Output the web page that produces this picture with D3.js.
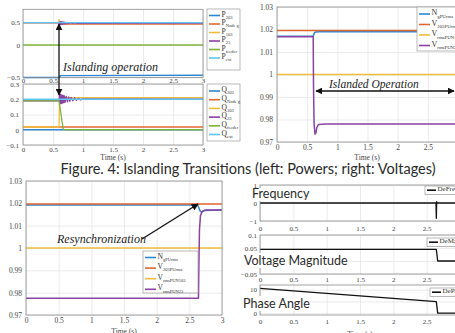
<!DOCTYPE html>
<html>
<head>
<meta charset="utf-8">
<script src="https://cdn.jsdelivr.net/npm/d3@7"></script>
<style>
  body { margin: 0; background: #fff; }
  svg { display: block; }
</style>
</head>
<body>
<div id="chart"></div>
<script>
// shared time axis
const timeTicks = [0, 0.5, 1, 1.5, 2, 2.5, 3];

// islanding: active powers (pu)
const p203 = [[0, -0.5], [0.6, -0.5], [0.63, -0.47], [3, -0.465]];
const pNodeG = [[0, 0.5], [0.6, 0.5], [0.62, 0.46], [0.65, 0.48], [0.7, 0.47], [3, 0.47]];
const p103 = [[0, 0.5], [0.595, 0.5], [0.6, 0.57], [0.61, 0.5], [3, 0.5]];
const p23 = [[0, 0.5], [0.6, 0.5], [0.61, 0.455], [0.62, 0.53], [0.63, 0.46], [0.64, 0.525], [0.65, 0.465],
  [0.66, 0.52], [0.67, 0.468], [0.68, 0.515], [0.69, 0.472], [0.70, 0.51], [0.72, 0.476], [0.74, 0.505],
  [0.76, 0.48], [0.79, 0.5], [0.82, 0.484], [0.86, 0.495], [0.9, 0.487], [3, 0.49]];
const pFeeder = [[0, 0], [3, 0]];
const pExt = [[0, 0.5], [3, 0.5]];

// islanding: reactive powers (pu)
const q203 = [[0, 0], [3, 0]];
const qNodeG = [[0, 0.018], [3, 0.018]];
const q103 = [[0, 0.018], [0.6, 0.018], [0.61, 0.21], [3, 0.21]];
const q23 = [[0, 0.19], [0.6, 0.19], [0.61, 0.235], [0.62, 0.17], [0.63, 0.232], [0.64, 0.172], [0.65, 0.228],
  [0.66, 0.175], [0.67, 0.225], [0.68, 0.178], [0.69, 0.222], [0.70, 0.18], [0.72, 0.218], [0.74, 0.183],
  [0.76, 0.215], [0.78, 0.186], [0.80, 0.212], [0.83, 0.19], [0.86, 0.209], [0.89, 0.193], [0.92, 0.206],
  [0.96, 0.196], [1.0, 0.203], [3, 0.2]];
const qFeeder = [[0, 0.19], [0.6, 0.19], [0.67, 0.005], [0.7, 0], [3, 0]];
const qExt = [[0, 0.2], [3, 0.2]];

// islanding: voltages (pu)
const ngIsland = [[0, 1.017], [0.6, 1.017], [0.61, 1.0178], [0.62, 1.0185], [0.64, 1.0189], [0.7, 1.019], [3, 1.019]];
const v203Island = [[0, 1.0196], [3, 1.0196]];
const v103Island = [[0, 1.0], [3, 1.0]];
const v23Island = [[0, 1.0168], [0.6, 1.0168], [0.605, 0.995], [0.615, 0.978], [0.63, 0.9735], [0.645, 0.974],
  [0.66, 0.9765], [0.69, 0.9778], [0.8, 0.978], [3, 0.978]];

// resynchronization: voltages (pu)
const ngResync = [[0, 1.0192], [2.6, 1.0192], [2.62, 1.0197], [2.645, 1.018], [2.67, 1.0163], [2.69, 1.0162],
  [2.73, 1.0168], [3, 1.017]];
const v203Resync = [[0, 1.0197], [3, 1.0197]];
const v103Resync = [[0, 1.0], [3, 1.0]];
const v23Resync = [[0, 0.9775], [2.64, 0.9775], [2.645, 0.99], [2.655, 1.008], [2.67, 1.0145], [2.7, 1.0165],
  [2.75, 1.017], [3, 1.017]];

// resynchronization: deviations
const deFreq = [[0, 0], [2.64, 0], [2.645, -0.85], [2.65, 0.08], [2.655, 0], [3, 0]];
const deMag = [[0, 0.045], [2.645, 0.045], [2.665, 0.0], [3, 0.0]];
const dePhase = [[0, 10.6], [2.645, 4.9], [2.665, 0], [3, 0]];

const colors = ["#2f86d0", "#e0672f", "#efbd3b", "#8b42a2", "#7db33c", "#5fc6ef"];
const serif = "'Liberation Serif', 'DejaVu Serif', serif";
const sans = "Lato, 'Noto Sans', sans-serif";

const svg = d3.select("#chart").append("svg").attr("width", 455).attr("height", 333);

const defs = svg.append("defs");
defs.append("marker").attr("id", "head")
  .attr("viewBox", "0 0 10 10").attr("refX", 9).attr("refY", 5)
  .attr("markerWidth", 7).attr("markerHeight", 7).attr("markerUnits", "userSpaceOnUse")
  .attr("orient", "auto-start-reverse")
  .append("path").attr("d", "M0,0L10,5L0,10Z").attr("fill", "#111");

function panel(p) {
  const g = svg.append("g");
  const x = d3.scaleLinear().domain([0, 3]).range([p.left, p.right]);
  const y = d3.scaleLinear().domain(p.yDomain).range(p.yRange);
  const h = p.bottom - p.top, w = p.right - p.left;

  g.append("rect").attr("x", p.left).attr("y", p.top).attr("width", w).attr("height", h).attr("fill", "#fff");

  const gx = g.append("g").attr("transform", `translate(0,${p.bottom})`)
    .call(d3.axisBottom(x).tickValues(timeTicks).tickSize(-h).tickFormat(""));
  const gy = g.append("g").attr("transform", `translate(${p.left},0)`)
    .call(d3.axisLeft(y).tickValues(p.yTicks).tickSize(-w).tickFormat(""));
  [gx, gy].forEach(a => {
    a.select(".domain").remove();
    a.selectAll("line").attr("stroke", "#e3e3e3").attr("stroke-width", 0.7);
  });

  const lab = g.append("g").attr("transform", `translate(0,${p.xLabelTop})`)
    .call(d3.axisBottom(x).tickValues(timeTicks).tickSize(0).tickPadding(0).tickFormat(d3.format("~g")));
  const laby = g.append("g").attr("transform", `translate(${p.yLabelRight},0)`)
    .call(d3.axisLeft(y).tickValues(p.yTicks).tickSize(0).tickPadding(0)
      .tickFormat((d, i) => p.yLabels ? p.yLabels[i] : d3.format("~g")(d)));
  [lab, laby].forEach(a => {
    a.select(".domain").remove();
    a.attr("font-family", serif).attr("font-size", p.fontSize || 7.5);
    a.selectAll("text").attr("fill", "#444");
  });

  const line = d3.line().x(d => x(d[0])).y(d => y(d[1]));
  p.series.forEach(s => {
    g.append("path").datum(s.data).attr("d", line)
      .attr("fill", "none").attr("stroke", s.color).attr("stroke-width", s.width || 1.3)
      .attr("stroke-linejoin", "round");
  });

  g.append("rect").attr("x", p.left).attr("y", p.top).attr("width", w).attr("height", h)
    .attr("fill", "none").attr("stroke", "#8c8c8c").attr("stroke-width", 0.8);

  if (p.xTitle) {
    g.append("text").attr("x", p.xTitle[0]).attr("y", p.xTitle[1]).attr("text-anchor", "middle")
      .attr("font-family", serif).attr("font-size", 7.5).attr("fill", "#444").text("Time (s)");
  }
  return { x, y };
}

function legend(l) {
  const g = svg.append("g");
  g.append("rect").attr("x", l.x).attr("y", l.y).attr("width", l.w).attr("height", l.h)
    .attr("fill", "#fff").attr("stroke", "#9a9a9a").attr("stroke-width", 0.7);
  l.items.forEach((it, i) => {
    const cy = l.y0 + i * l.step;
    g.append("line").attr("x1", l.x + l.pad).attr("x2", l.x + l.pad + l.len)
      .attr("y1", cy).attr("y2", cy).attr("stroke", it.color).attr("stroke-width", 1.6);
    const t = g.append("text").attr("x", l.x + l.pad + l.len + 1.5).attr("y", cy + l.fs * 0.15)
      .attr("font-family", serif).attr("font-size", l.fs).attr("fill", "#333");
    t.append("tspan").text(it.main);
    if (it.sub) t.append("tspan").attr("font-size", l.fs * 0.6).attr("dy", l.fs * 0.3).text(it.sub);
  });
}

// ---------- top-left: active powers ----------
panel({
  left: 23, right: 203, top: 9.3, bottom: 77.5,
  yDomain: [-0.5, 0, 0.5, 0.8], yRange: [77.5, 45, 22.7, 9.3],
  yTicks: [-0.5, 0, 0.5], xLabelTop: 78.5, yLabelRight: 20, fontSize: 7,
  series: [p203, pNodeG, p103, p23, pFeeder, pExt].map((d, i) => ({ data: d, color: colors[i], width: 1.3 }))
});
legend({
  x: 207, y: 9, w: 33, h: 61, pad: 2, len: 11, fs: 7.5, y0: 15.5, step: 8.5,
  items: ["203", "Node g", "103", "23", "feeder", "ext"].map((s, i) => ({ color: colors[i], main: "P", sub: s }))
});

// ---------- middle-left: reactive powers ----------
panel({
  left: 23, right: 203, top: 84, bottom: 145,
  yDomain: [-0.1, 0.3], yRange: [145, 84],
  yTicks: [-0.1, 0, 0.1, 0.2, 0.3], xLabelTop: 147, yLabelRight: 19, fontSize: 7,
  xTitle: [113, 160],
  series: [q203, qNodeG, q103, q23, qFeeder, qExt].map((d, i) => ({ data: d, color: colors[i], width: 1.3 }))
});
legend({
  x: 207, y: 84, w: 33, h: 57, pad: 2, len: 11, fs: 7.5, y0: 91, step: 8.7,
  items: ["203", "Node g", "103", "23", "feeder", "ext"].map((s, i) => ({ color: colors[i], main: "Q", sub: s }))
});

// islanding arrow + label
svg.append("line").attr("x1", 59).attr("x2", 59).attr("y1", 24).attr("y2", 95)
  .attr("stroke", "#111").attr("stroke-width", 1.3)
  .attr("marker-start", "url(#head)").attr("marker-end", "url(#head)");
svg.append("text").attr("x", 63).attr("y", 71).attr("font-family", serif).attr("font-style", "italic")
  .attr("font-size", 12).attr("fill", "#222").text("Islanding operation");

// ---------- top-right: voltages during islanding ----------
const vTicks = [0.97, 0.98, 0.99, 1, 1.01, 1.02, 1.03];
panel({
  left: 277, right: 458, top: 7, bottom: 142,
  yDomain: [0.97, 1.03], yRange: [142, 7],
  yTicks: vTicks, xLabelTop: 145, yLabelRight: 273, fontSize: 7.5,
  xTitle: [367, 160],
  series: [ngIsland, v203Island, v103Island, v23Island].map((d, i) => ({ data: d, color: colors[i], width: 1.5 }))
});
const vLegendItems = [
  { color: colors[0], main: "N", sub: "gPUrms" },
  { color: colors[1], main: "V", sub: "203PUrms" },
  { color: colors[2], main: "V", sub: "rmsPUN103" },
  { color: colors[3], main: "V", sub: "rmsPUN23" }
];
legend({ x: 417, y: 7, w: 56, h: 44, pad: 2, len: 11, fs: 8, y0: 14, step: 10.5, items: vLegendItems });

svg.append("line").attr("x1", 316).attr("x2", 454).attr("y1", 91).attr("y2", 91)
  .attr("stroke", "#111").attr("stroke-width", 1.3)
  .attr("marker-start", "url(#head)").attr("marker-end", "url(#head)");
svg.append("text").attr("x", 329).attr("y", 88).attr("font-family", serif).attr("font-style", "italic")
  .attr("font-size", 11.5).attr("fill", "#222").text("Islanded Operation");

// ---------- caption ----------
svg.append("text").attr("x", 248).attr("y", 174).attr("text-anchor", "middle")
  .attr("font-family", sans).attr("font-size", 14.5).attr("fill", "#2a2a2a")
  .text("Figure. 4: Islanding Transitions (left: Powers; right: Voltages)");

// ---------- bottom-left: voltages during resynchronization ----------
panel({
  left: 26, right: 222, top: 181, bottom: 315,
  yDomain: [0.97, 1.03], yRange: [315, 181],
  yTicks: vTicks, xLabelTop: 318, yLabelRight: 22, fontSize: 7.5,
  xTitle: [124, 334],
  series: [ngResync, v203Resync, v103Resync, v23Resync].map((d, i) => ({ data: d, color: colors[i], width: 1.5 }))
});
legend({ x: 143, y: 251, w: 55, h: 42, pad: 2, len: 11, fs: 7.5, y0: 257.5, step: 10.6, items: vLegendItems });

svg.append("line").attr("x1", 142).attr("y1", 239).attr("x2", 198).attr("y2", 204)
  .attr("stroke", "#111").attr("stroke-width", 1.3).attr("marker-end", "url(#head)");
svg.append("text").attr("x", 57).attr("y", 243).attr("font-family", serif).attr("font-style", "italic")
  .attr("font-size", 12).attr("fill", "#222").text("Resynchronization");

// ---------- bottom-right: deviations ----------
const devPanels = [
  { data: deFreq, top: 185, bottom: 221, yDomain: [-1, 1], yTicks: [-1, 0, 1], xLabelTop: 226,
    name: "DeFreq", leg: [425, 186], title: "Frequency", tb: [251, 188, 52, 13] },
  { data: deMag, top: 235, bottom: 274, yDomain: [-0.05, 0.1], yTicks: [-0.05, 0, 0.05, 0.1], xLabelTop: 277,
    name: "DeMag", leg: [427, 238], title: "Voltage Magnitude", tb: [243, 253, 93, 15] },
  { data: dePhase, top: 285, bottom: 315, yDomain: [-0.8, 12], yTicks: [0, 5, 10], xLabelTop: 319,
    name: "DePhase", leg: [430, 288], title: "Phase Angle", tb: [242, 296, 61, 15] }
];
devPanels.forEach(d => {
  panel({
    left: 260, right: 460, top: d.top, bottom: d.bottom,
    yDomain: d.yDomain, yRange: [d.bottom, d.top],
    yTicks: d.yTicks, xLabelTop: d.xLabelTop, yLabelRight: 257, fontSize: 7,
    series: [{ data: d.data, color: "#111", width: 1.3 }]
  });
  legend({ x: d.leg[0], y: d.leg[1], w: 40, h: 8.5, pad: 2, len: 9, fs: 7, y0: d.leg[1] + 4.2, step: 0,
    items: [{ color: "#111", main: d.name }] });
  svg.append("rect").attr("x", d.tb[0]).attr("y", d.tb[1]).attr("width", d.tb[2]).attr("height", d.tb[3])
    .attr("fill", "#fff");
  svg.append("text").attr("x", d.tb[0] + 1).attr("y", d.tb[1] + d.tb[3] - 3.5)
    .attr("font-family", sans).attr("font-size", 12.5).attr("fill", "#2a2a2a").text(d.title);
});
svg.append("text").attr("x", 360).attr("y", 337).attr("text-anchor", "middle")
  .attr("font-family", serif).attr("font-size", 7.5).attr("fill", "#444").text("Time (s)");
</script>
</body>
</html>
